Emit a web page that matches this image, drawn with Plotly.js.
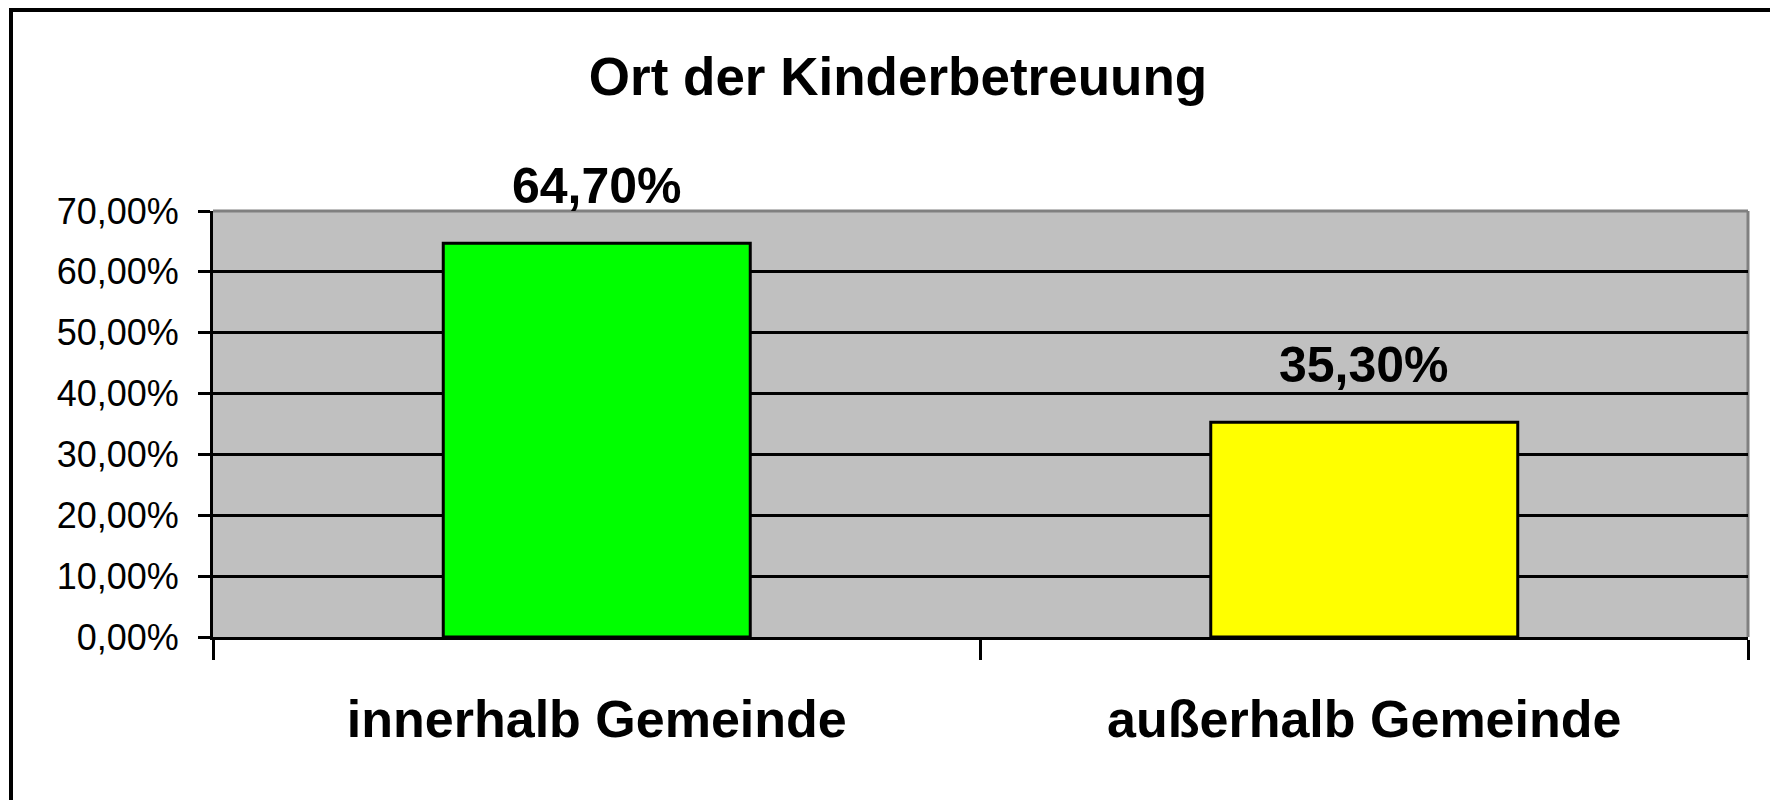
<!DOCTYPE html>
<html>
<head>
<meta charset="utf-8">
<script src="https://cdn.plot.ly/plotly-3.0.1.min.js"></script>
<style>
  html, body { margin: 0; padding: 0; background: #fff; }
  #wrap { position: relative; width: 1770px; height: 800px; overflow: hidden; }
  #chart { width: 1770px; height: 800px; }
  #frame { position: absolute; left: 9px; top: 8px; width: 1800px; height: 900px;
           border-left: 4px solid #000; border-top: 4px solid #000; pointer-events: none; }
</style>
</head>
<body>
<div id="wrap">
  <div id="chart"></div>
  <div id="frame"></div>
</div>
<script>
const categories = ["innerhalb Gemeinde", "außerhalb Gemeinde"];
const shares = [0.647, 0.353];
const barColors = ["#00FF00", "#FFFF00"];
const chartTitle = "Ort der Kinderbetreuung";

const FONT = "Liberation Sans, Arial, sans-serif";

function pct(v) { return (v * 100).toFixed(2).replace('.', ',') + '%'; }

const trace = {
  type: 'bar',
  x: categories,
  y: shares,
  marker: { color: barColors, line: { color: '#000', width: 3 } },
  hoverinfo: 'skip'
};

const annotations = categories.map((c, i) => ({
  x: c, y: shares[i], xref: 'x', yref: 'y',
  text: '<b>' + pct(shares[i]) + '</b>',
  showarrow: false, yanchor: 'bottom', yshift: 27,
  font: { family: FONT, size: 50, color: '#000' }
}));

const layout = {
  width: 1770, height: 800,
  margin: { l: 213, r: 22, t: 211, b: 163 },
  paper_bgcolor: '#fff',
  plot_bgcolor: '#C0C0C0',
  separators: ',.',
  showlegend: false,
  bargap: 0.6,
  title: {
    text: '<b>' + chartTitle + '</b>',
    font: { family: FONT, size: 53, color: '#000' },
    xref: 'container', yref: 'container',
    x: 898 / 1770, xanchor: 'center',
    y: 1 - 76 / 800, yanchor: 'middle'
  },
  xaxis: {
    type: 'category',
    showline: true, linecolor: '#000', linewidth: 3,
    ticks: 'outside', tickson: 'boundaries', ticklen: 20, tickwidth: 3, tickcolor: '#000',
    showgrid: false, zeroline: false,
    tickfont: { family: FONT, size: 52, color: '#000', weight: 'bold' },
    ticklabelstandoff: 35,
    fixedrange: true
  },
  yaxis: {
    range: [0, 0.7], dtick: 0.1, tick0: 0,
    tickformat: '.2%',
    showline: true, linecolor: '#000', linewidth: 3,
    ticks: 'outside', ticklen: 12, tickwidth: 3, tickcolor: '#000',
    showgrid: true, gridcolor: '#000', gridwidth: 3,
    zeroline: false,
    tickfont: { family: FONT, size: 36, color: '#000' },
    ticklabelstandoff: 12,
    fixedrange: true
  },
  shapes: [
    { type: 'line', xref: 'paper', yref: 'paper', x0: 0, x1: 1, y0: 1, y1: 1,
      line: { color: '#808080', width: 3 }, layer: 'above' },
    { type: 'line', xref: 'paper', yref: 'paper', x0: 1, x1: 1, y0: 0, y1: 1,
      line: { color: '#808080', width: 3 }, layer: 'below' }
  ],
  annotations: annotations
};

Plotly.newPlot('chart', [trace], layout, { staticPlot: true, displayModeBar: false });
</script>
</body>
</html>
